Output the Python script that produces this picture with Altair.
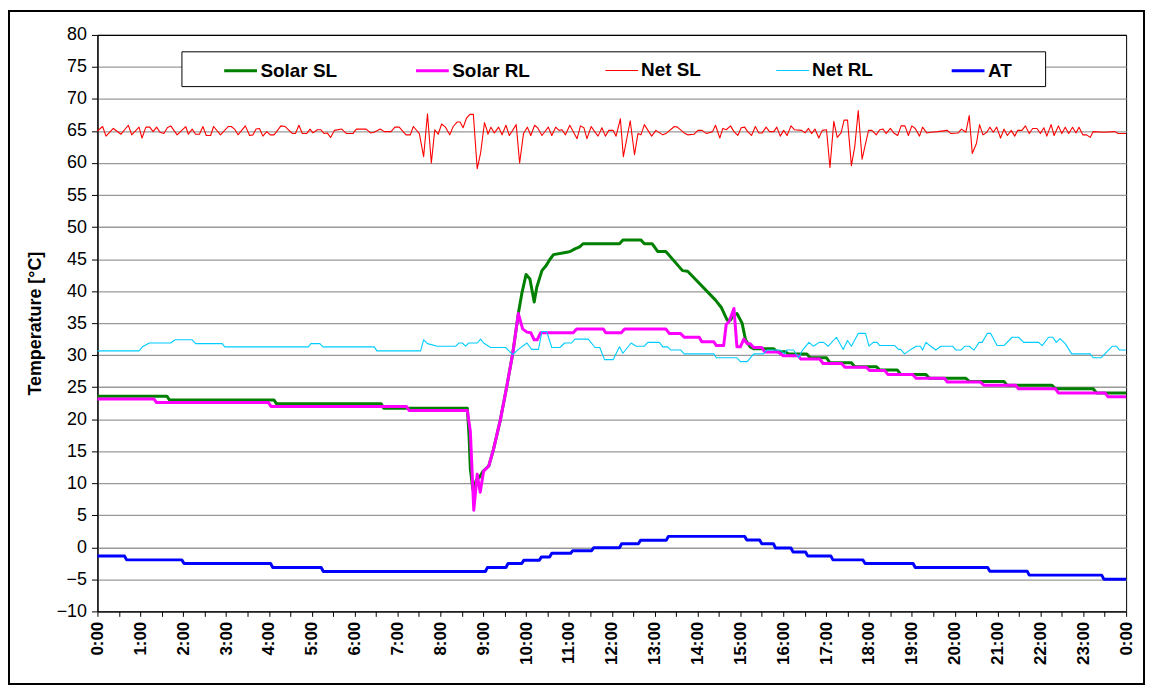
import altair as alt
import pandas as pd

series_names = ["Solar SL", "Solar RL", "Net SL", "Net RL", "AT"]
series_colors = ["#008000", "#FF00FF", "#FF0000", "#00CCFF", "#0000FF"]
series_widths = [3, 3, 1.1, 1.1, 3]

# (hour, temperature) pairs
solar_sl = [(0, 23.6), (1.62, 23.6), (1.68, 23.0), (4.12, 23.0), (4.18, 22.4), (6.62, 22.4), (6.68, 21.7),
            (8.63, 21.7), (8.67, 17.4), (8.70, 12.2), (8.76, 9.0), (8.84, 10.5), (8.92, 11.0), (9.0, 11.9),
            (9.13, 12.7), (9.24, 15.3), (9.40, 19.9), (9.55, 25.1), (9.69, 30.3), (9.82, 36.5), (9.90, 39.6),
            (10.0, 42.6), (10.09, 41.9), (10.19, 38.3), (10.25, 40.6), (10.37, 43.2), (10.47, 44.0),
            (10.55, 44.9), (10.64, 45.7), (10.98, 46.1), (11.06, 46.3), (11.14, 46.6), (11.25, 46.9),
            (11.33, 47.4), (12.18, 47.4), (12.26, 48.0), (12.68, 48.0), (12.76, 47.4), (12.94, 47.4),
            (13.07, 46.2), (13.26, 46.2), (13.65, 43.2), (13.77, 43.1), (14.42, 38.6), (14.56, 37.4),
            (14.69, 35.5), (14.77, 35.5), (14.84, 36.3), (14.92, 36.5), (15.04, 35.0), (15.12, 32.4),
            (15.23, 31.3), (15.31, 31.0), (15.78, 31.0), (15.85, 30.55), (16.05, 30.55), (16.12, 30.2),
            (16.55, 30.2), (16.63, 29.6), (17.01, 29.6), (17.09, 28.8), (17.59, 28.8), (17.67, 28.2),
            (18.17, 28.2), (18.25, 27.7), (18.66, 27.7), (18.74, 27.0), (19.33, 27.0), (19.41, 26.4),
            (20.26, 26.4), (20.34, 25.9), (21.15, 25.9), (21.22, 25.3), (22.27, 25.3), (22.35, 24.75),
            (23.23, 24.75), (23.31, 24.1), (24.0, 24.1)]

solar_rl = [(0, 23.15), (1.32, 23.15), (1.38, 22.6), (3.99, 22.6), (4.05, 22.0), (7.21, 22.0), (7.27, 21.35),
            (8.63, 21.35), (8.70, 18.1), (8.78, 5.8), (8.86, 11.4), (8.93, 8.6), (9.01, 11.9), (9.13, 12.7),
            (9.24, 15.3), (9.40, 19.9), (9.55, 25.1), (9.69, 30.3), (9.82, 36.5), (9.92, 34.1), (10.02, 33.6),
            (10.11, 33.5), (10.19, 32.4), (10.26, 32.4), (10.34, 33.5), (11.1, 33.5), (11.18, 34.1),
            (11.8, 34.1), (11.86, 33.5), (12.22, 33.5), (12.3, 34.1), (13.26, 34.1), (13.34, 33.4),
            (13.6, 33.4), (13.69, 32.8), (14.04, 32.8), (14.10, 32.1), (14.38, 32.1), (14.44, 31.5),
            (14.61, 31.5), (14.67, 34.8), (14.74, 35.3), (14.85, 37.3), (14.92, 31.3), (15.0, 31.3),
            (15.08, 32.5), (15.16, 31.8), (15.23, 31.8), (15.31, 31.2), (15.5, 31.2), (15.57, 30.5),
            (15.88, 30.5), (16.0, 29.9), (16.35, 29.9), (16.41, 29.4), (16.85, 29.4), (16.93, 28.7),
            (17.36, 28.7), (17.44, 28.1), (17.94, 28.1), (18.02, 27.6), (18.37, 27.6), (18.44, 27.0),
            (19.02, 27.0), (19.1, 26.4), (19.76, 26.4), (19.83, 25.8), (20.6, 25.8), (20.68, 25.3),
            (21.42, 25.3), (21.49, 24.75), (22.35, 24.75), (22.42, 24.1), (23.51, 24.1), (23.58, 23.5),
            (24.0, 23.5)]

net_sl = [(0.0, 65.0), (0.12, 65.7), (0.20, 64.2), (0.37, 65.4), (0.55, 64.5), (0.72, 65.9), (0.80, 64.4),
          (0.97, 65.6), (1.04, 63.9), (1.13, 65.6), (1.22, 65.6), (1.30, 64.9), (1.38, 65.6), (1.46, 64.8),
          (1.55, 64.6), (1.63, 65.5), (1.71, 65.8), (1.86, 64.4), (2.06, 65.7), (2.12, 64.5), (2.21, 65.3),
          (2.29, 64.5), (2.38, 64.5), (2.46, 65.7), (2.54, 64.3), (2.64, 64.3), (2.71, 65.7), (2.87, 64.4),
          (3.05, 65.7), (3.12, 65.7), (3.20, 65.3), (3.28, 64.4), (3.45, 65.8), (3.55, 64.3), (3.63, 64.4),
          (3.70, 65.3), (3.78, 65.4), (3.86, 64.2), (3.95, 64.9), (4.03, 64.4), (4.12, 64.4), (4.28, 65.8),
          (4.38, 65.7), (4.55, 64.6), (4.62, 64.6), (4.70, 65.9), (4.78, 64.6), (4.88, 64.6), (4.96, 65.3),
          (5.03, 64.7), (5.13, 65.2), (5.21, 65.2), (5.29, 64.6), (5.36, 64.7), (5.44, 64.0), (5.53, 65.1),
          (5.70, 65.3), (5.81, 64.6), (5.96, 64.6), (6.04, 65.3), (6.27, 65.3), (6.37, 64.7), (6.45, 64.8),
          (6.60, 65.3), (6.69, 64.9), (6.85, 64.9), (6.94, 65.6), (7.04, 65.6), (7.20, 64.4), (7.30, 64.4),
          (7.37, 65.7), (7.51, 64.6), (7.61, 61.0), (7.70, 67.7), (7.79, 60.0), (7.87, 65.2), (7.95, 64.5),
          (8.03, 66.1), (8.12, 65.6), (8.22, 64.4), (8.30, 65.7), (8.39, 66.4), (8.46, 66.4), (8.53, 65.5),
          (8.61, 67.0), (8.69, 67.6), (8.77, 67.6), (8.86, 59.1), (8.94, 61.6), (9.03, 66.3), (9.09, 65.1),
          (9.11, 64.5), (9.18, 65.6), (9.26, 64.7), (9.36, 65.6), (9.44, 64.4), (9.53, 65.9), (9.61, 64.3),
          (9.77, 66.0), (9.85, 60.0), (9.94, 64.6), (10.03, 65.6), (10.11, 64.3), (10.20, 65.9), (10.27, 65.5),
          (10.37, 64.3), (10.52, 65.6), (10.60, 64.3), (10.69, 65.6), (10.77, 65.1), (10.84, 65.2),
          (10.92, 64.4), (11.02, 65.9), (11.19, 63.8), (11.27, 65.8), (11.35, 65.5), (11.42, 63.8),
          (11.52, 65.7), (11.60, 64.9), (11.68, 64.2), (11.77, 65.5), (11.85, 64.2), (11.93, 65.1),
          (12.03, 65.1), (12.10, 64.2), (12.20, 66.9), (12.27, 61.0), (12.43, 66.6), (12.53, 61.3),
          (12.61, 64.6), (12.68, 64.4), (12.76, 66.0), (12.93, 64.2), (13.03, 65.1), (13.19, 64.4),
          (13.26, 64.6), (13.46, 65.7), (13.53, 65.6), (13.69, 64.7), (13.77, 64.4), (13.92, 64.5),
          (14.01, 65.1), (14.11, 65.1), (14.21, 64.6), (14.35, 64.9), (14.42, 65.9), (14.52, 63.9),
          (14.59, 65.4), (14.67, 65.2), (14.77, 65.8), (14.85, 64.9), (14.94, 64.3), (15.02, 65.5),
          (15.10, 65.6), (15.17, 64.9), (15.26, 64.3), (15.35, 65.7), (15.43, 64.7), (15.51, 64.7),
          (15.60, 65.6), (15.68, 64.9), (15.78, 64.9), (15.85, 65.6), (15.93, 64.2), (16.01, 65.1),
          (16.09, 64.3), (16.18, 65.8), (16.26, 65.2), (16.43, 65.1), (16.51, 64.7), (16.59, 65.4),
          (16.66, 64.6), (16.74, 65.3), (16.83, 63.9), (16.91, 65.1), (17.01, 65.2), (17.09, 59.3),
          (17.18, 66.5), (17.26, 64.0), (17.35, 64.7), (17.42, 66.7), (17.50, 66.7), (17.59, 59.6),
          (17.67, 62.6), (17.75, 68.2), (17.84, 60.6), (17.99, 65.1), (18.07, 65.1), (18.17, 64.4),
          (18.25, 65.2), (18.33, 65.3), (18.40, 64.6), (18.50, 65.4), (18.58, 64.7), (18.67, 64.3),
          (18.75, 65.8), (18.84, 65.8), (18.92, 64.3), (19.00, 65.8), (19.08, 65.4), (19.18, 64.2),
          (19.25, 65.6), (19.35, 64.7), (19.45, 64.8), (19.60, 64.9), (19.83, 65.1), (19.91, 64.6),
          (20.08, 64.7), (20.16, 65.3), (20.26, 64.8), (20.34, 67.4), (20.41, 61.5), (20.51, 63.1),
          (20.58, 66.0), (20.66, 64.4), (20.75, 64.8), (20.82, 65.6), (20.90, 64.8), (20.98, 65.6),
          (21.07, 63.9), (21.15, 65.3), (21.23, 64.3), (21.32, 65.1), (21.40, 64.2), (21.47, 65.1),
          (21.57, 65.1), (21.65, 65.8), (21.74, 64.6), (21.82, 65.4), (21.92, 65.4), (22.00, 64.6),
          (22.08, 65.5), (22.15, 64.2), (22.25, 66.0), (22.32, 64.3), (22.42, 65.8), (22.50, 64.6),
          (22.58, 65.6), (22.66, 64.6), (22.75, 65.6), (22.83, 64.7), (22.90, 65.6), (22.99, 64.4),
          (23.08, 64.4), (23.16, 64.0), (23.23, 64.9), (23.47, 64.8), (23.74, 64.9), (23.81, 64.6),
          (24.0, 64.6)]

net_rl = [(0, 30.67), (0.97, 30.67), (1.05, 31.3), (1.21, 31.9), (1.71, 31.9), (1.81, 32.4), (2.21, 32.4),
          (2.29, 31.8), (2.91, 31.8), (2.97, 31.3), (4.92, 31.3), (4.98, 31.8), (5.19, 31.8), (5.26, 31.3),
          (6.46, 31.3), (6.52, 30.67), (7.54, 30.67), (7.61, 32.4), (7.70, 31.8), (7.93, 31.4), (8.36, 31.4),
          (8.43, 31.9), (8.51, 31.9), (8.59, 31.4), (8.66, 31.9), (8.86, 31.9), (8.94, 32.5), (9.01, 31.9),
          (9.17, 31.2), (9.52, 31.2), (9.69, 30.1), (9.82, 30.9), (10.02, 31.9), (10.13, 30.9), (10.29, 30.9),
          (10.37, 33.7), (10.48, 33.7), (10.6, 31.2), (10.79, 31.2), (10.9, 31.9), (11.06, 31.9), (11.14, 32.5),
          (11.45, 32.5), (11.61, 31.2), (11.72, 31.2), (11.83, 29.3), (12.03, 29.3), (12.18, 31.3),
          (12.26, 30.3), (12.45, 31.9), (12.57, 31.4), (12.76, 31.4), (12.84, 32.0), (13.11, 32.0),
          (13.19, 31.3), (13.3, 31.3), (13.38, 30.8), (13.61, 30.8), (13.69, 30.2), (14.38, 30.2),
          (14.44, 29.6), (14.92, 29.6), (15.0, 29.0), (15.16, 29.0), (15.31, 30.2), (15.54, 30.2),
          (15.62, 30.8), (15.93, 30.8), (16.03, 30.2), (16.08, 30.8), (16.24, 30.8), (16.36, 29.6),
          (16.45, 30.8), (16.60, 32.0), (16.70, 31.4), (16.84, 32.0), (16.94, 32.0), (17.05, 31.4),
          (17.24, 32.8), (17.40, 30.9), (17.50, 32.3), (17.59, 31.4), (17.75, 33.4), (17.92, 33.4),
          (18.0, 31.4), (18.1, 32.0), (18.19, 32.0), (18.25, 31.5), (18.6, 31.5), (18.69, 30.9),
          (18.74, 30.9), (18.83, 30.2), (18.98, 30.9), (19.10, 31.4), (19.2, 31.4), (19.25, 30.8),
          (19.33, 32.0), (19.44, 31.4), (19.56, 30.8), (19.68, 31.4), (19.95, 31.4), (20.03, 30.8),
          (20.15, 30.8), (20.24, 31.4), (20.34, 31.4), (20.45, 30.8), (20.57, 32.0), (20.64, 32.0),
          (20.76, 33.4), (20.84, 33.4), (20.99, 31.5), (21.15, 31.5), (21.34, 32.8), (21.49, 32.8),
          (21.61, 32.0), (21.96, 32.0), (22.04, 31.5), (22.19, 32.8), (22.29, 32.8), (22.37, 32.0),
          (22.46, 32.6), (22.58, 31.8), (22.73, 30.2), (23.16, 30.2), (23.23, 29.6), (23.42, 29.6),
          (23.68, 31.4), (23.77, 31.4), (23.85, 30.8), (24.0, 30.8)]

at = [(0, -1.34), (0.63, -1.34), (0.68, -1.96), (1.97, -1.96), (2.02, -2.53), (4.04, -2.53), (4.09, -3.16),
      (5.22, -3.16), (5.27, -3.78), (9.05, -3.78), (9.10, -3.16), (9.53, -3.16), (9.58, -2.53), (9.90, -2.53),
      (9.95, -2.0), (10.31, -2.0), (10.36, -1.5), (10.55, -1.5), (10.60, -0.93), (11.04, -0.93),
      (11.09, -0.52), (11.53, -0.52), (11.58, -0.05), (12.18, -0.05), (12.23, 0.55), (12.62, 0.55),
      (12.67, 1.09), (13.27, 1.09), (13.32, 1.71), (15.10, 1.71), (15.15, 1.14), (15.45, 1.14),
      (15.50, 0.57), (15.77, 0.57), (15.82, -0.1), (16.18, -0.1), (16.23, -0.72), (16.52, -0.72),
      (16.57, -1.34), (17.11, -1.34), (17.16, -1.96), (17.86, -1.96), (17.91, -2.53), (19.03, -2.53),
      (19.08, -3.16), (20.77, -3.16), (20.82, -3.72), (21.69, -3.72), (21.74, -4.34), (23.43, -4.34),
      (23.48, -4.97), (24.0, -4.97)]

y_ticks = list(range(-10, 81, 5))
x_ticks = [i * 0.5 for i in range(49)]

rows = []
for name, pts in zip(series_names, [solar_sl, solar_rl, net_sl, net_rl, at]):
    for h, v in pts:
        rows.append({"hour": h, "temp": v, "series": name})
df = pd.DataFrame(rows)

W, H = 1035, 580
FONT = "Liberation Sans"

lines = alt.Chart(df).mark_line(strokeJoin="round").encode(
    x=alt.X("hour:Q", scale=alt.Scale(domain=[0, 24], nice=False),
            axis=alt.Axis(values=x_ticks, grid=False, title=None,
                          labelExpr="datum.value % 1 == 0 ? (datum.value % 24) + ':00' : ''",
                          labelAngle=270, labelAlign="right", labelBaseline="middle",
                          labelFontWeight="bold", labelFontSize=17, labelFlush=False,
                          labelOverlap=False, tickSize=5, labelPadding=5)),
    y=alt.Y("temp:Q", scale=alt.Scale(domain=[-10, 80], nice=False),
            axis=alt.Axis(values=y_ticks, title="Temperature [°C]", titleFontWeight="bold",
                          titleFontSize=18, titlePadding=12, labelFontSize=18, tickSize=6,
                          labelPadding=5, labelFlush=False,
                          gridColor={"condition": {"test": "datum.value === 80", "value": "black"},
                                     "value": "#999999"},
                          gridWidth=1.3)),
    color=alt.Color("series:N", scale=alt.Scale(domain=series_names, range=series_colors),
                    legend=alt.Legend(orient="none", legendX=126, legendY=18, direction="horizontal",
                                      title=None, symbolType="stroke", symbolSize=1089,
                                      labelFontSize=19, labelFontWeight="bold", labelFont=FONT,
                                      labelColor="black", columnPadding=72, labelOffset=2,
                                      padding=0)),
    strokeWidth=alt.StrokeWidth("series:N",
                                scale=alt.Scale(type="ordinal", domain=series_names, range=series_widths)),
    detail="series:N",
)

dummy = pd.DataFrame({"k": [0]})
legend_box = alt.Chart(dummy).mark_rect(fill="white", stroke="black", strokeWidth=1).encode(
    x=alt.value(85), x2=alt.value(954), y=alt.value(17), y2=alt.value(52))
frame = alt.Chart(dummy).mark_rect(fillOpacity=0, stroke="black", strokeWidth=2).encode(
    x=alt.value(-89), x2=alt.value(1053), y=alt.value(-24), y2=alt.value(653))

chart = alt.layer(lines, legend_box, frame).properties(
    width=W, height=H,
    autosize=alt.AutoSizeParams(type="none"),
    padding={"left": 90, "top": 25, "right": 20, "bottom": 75},
    background="white",
).configure_view(stroke="black", strokeWidth=1).configure_axis(
    labelFont=FONT, titleFont=FONT, labelColor="black", titleColor="black",
    domainColor="black", tickColor="black", domainWidth=1.2,
)

chart.save("out.html", embed_options={"renderer": "svg", "actions": False})
